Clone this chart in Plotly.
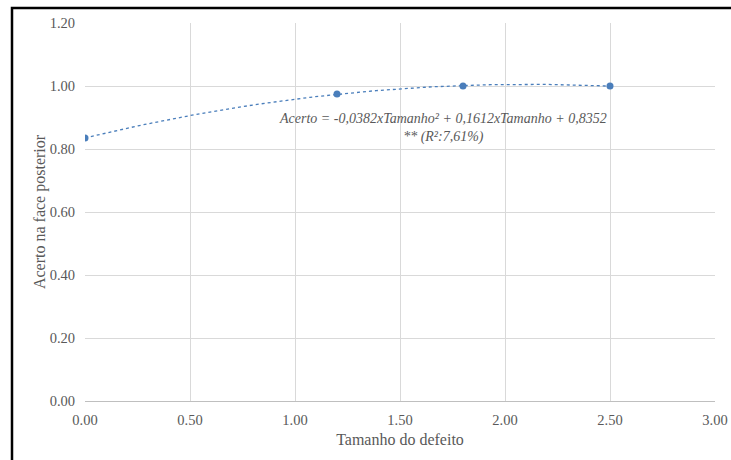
import numpy as np
import plotly.graph_objects as go

tamanho = [0.0, 1.2, 1.8, 2.5]
acerto = [0.835, 0.975, 1.0, 1.0]
x_ticks = [0.0, 0.5, 1.0, 1.5, 2.0, 2.5, 3.0]
y_ticks = [0.0, 0.2, 0.4, 0.6, 0.8, 1.0, 1.2]
eq_text = "<i>Acerto = -0,0382xTamanho² + 0,1612xTamanho + 0,8352<br>** (R²:7,61%)</i>"

coef = np.polyfit(tamanho, acerto, 2)
xf = np.linspace(min(tamanho), max(tamanho), 120)
yf = np.polyval(coef, xf)

blue = "#4a7ebb"
grey = "#595959"
font = "Liberation Serif, Times New Roman, serif"

fig = go.Figure()
fig.add_trace(go.Scatter(x=xf, y=yf, mode="lines",
                         line=dict(color=blue, width=1.3, dash="dot"),
                         hoverinfo="skip", showlegend=False))
fig.add_trace(go.Scatter(x=tamanho, y=acerto, mode="markers",
                         marker=dict(color=blue, size=7), showlegend=False))

fig.add_annotation(x=1.705, y=0.868, xref="x", yref="y", text=eq_text,
                   showarrow=False, align="center",
                   font=dict(family=font, size=14, color=grey))

fig.update_layout(
    width=731, height=460,
    margin=dict(l=85, r=16, t=23, b=59, autoexpand=False),
    paper_bgcolor="white", plot_bgcolor="white",
    font=dict(family=font, color=grey, size=14),
    xaxis=dict(range=[0, 3], tickvals=x_ticks, automargin=False,
               ticktext=[f"{v:.2f}" for v in x_ticks],
               showgrid=True, gridcolor="#d9d9d9", gridwidth=1,
               zeroline=False, showline=True, linecolor="#bfbfbf", linewidth=1,
               ticks="", ticklabelstandoff=6,
               title=dict(text="Tamanho do defeito", font=dict(family=font, size=16, color=grey), standoff=6),
               tickfont=dict(family=font, size=14.5, color=grey)),
    yaxis=dict(range=[0, 1.2], tickvals=y_ticks, automargin=False,
               ticktext=[f"{v:.2f}" for v in y_ticks],
               showgrid=True, gridcolor="#d9d9d9", gridwidth=1,
               zeroline=False, showline=False,
               ticks="", ticklabelstandoff=9,
               title=dict(text="Acerto na face posterior", font=dict(family=font, size=16, color=grey), standoff=0),
               tickfont=dict(family=font, size=14.5, color=grey)),
)

# outer chart border (cropped at right/bottom)
pw, ph = 630, 378
fig.add_shape(type="rect", xref="paper", yref="paper",
              x0=(12 - 85) / pw, x1=(731 - 85 + 3) / pw,
              y0=-(59 + 3) / ph, y1=1 + (23 - 8) / ph,
              line=dict(color="black", width=2.5), layer="above")

fig.write_html("out.html", config={"displayModeBar": False})
